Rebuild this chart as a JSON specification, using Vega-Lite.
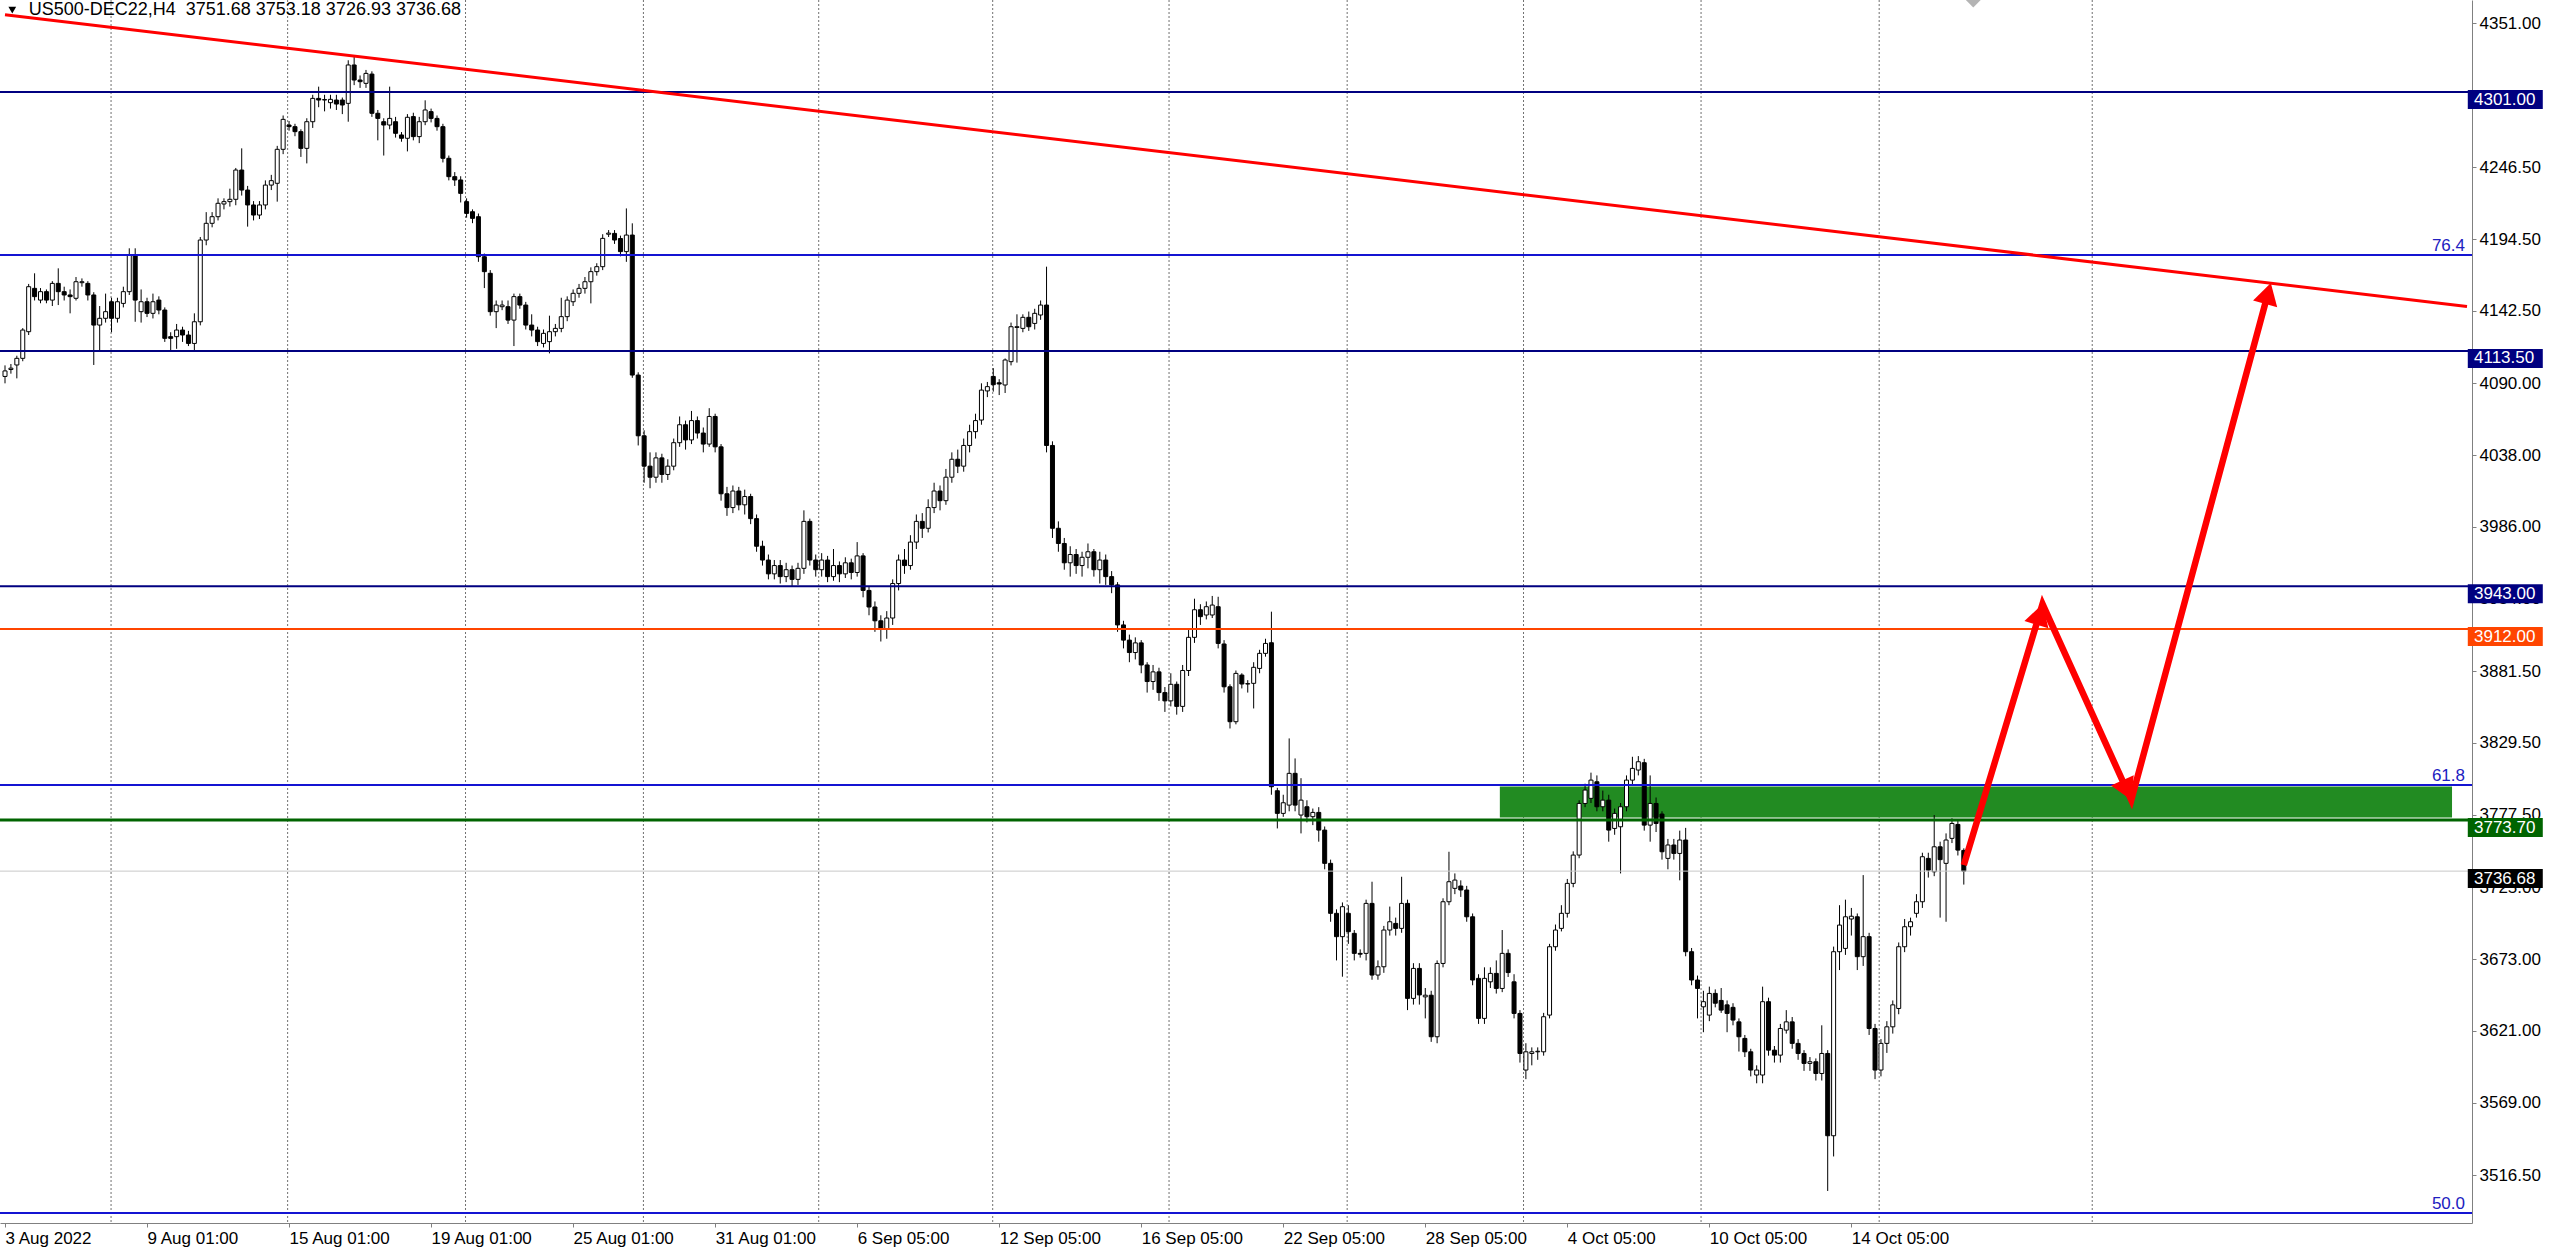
{
"$schema": "https://vega.github.io/schema/vega-lite/v6.json",
"width": 2472, "height": 1223,
"autosize": {"type": "none"},
"padding": {"left": 0, "top": 0, "right": 88, "bottom": 28},
"background": "#ffffff",
"config": {"view": {"stroke": null}},
"resolve": {"axis": {"x": "independent", "y": "independent"}},
"datasets": {
"candles": [
{"t":0,"o":4095,"h":4103,"l":4090,"c":4099},
{"t":1,"o":4100,"h":4104,"l":4097,"c":4101},
{"t":2,"o":4103.3,"h":4110,"l":4093.6,"c":4108.1},
{"t":3,"o":4108.1,"h":4130,"l":4106,"c":4128.6},
{"t":4,"o":4127.4,"h":4162,"l":4125,"c":4160},
{"t":5,"o":4158.8,"h":4169.7,"l":4150,"c":4152.8},
{"t":6,"o":4150.3,"h":4159,"l":4148,"c":4156.4},
{"t":7,"o":4156.4,"h":4158,"l":4148,"c":4150.3},
{"t":8,"o":4150.3,"h":4164,"l":4146,"c":4162.4},
{"t":9,"o":4162.4,"h":4173.3,"l":4146.7,"c":4156.4},
{"t":10,"o":4156.4,"h":4160,"l":4150,"c":4154},
{"t":11,"o":4154,"h":4158,"l":4140.7,"c":4152.8},
{"t":12,"o":4151.6,"h":4167,"l":4150,"c":4163.6},
{"t":13,"o":4162.9,"h":4166,"l":4160,"c":4163.6},
{"t":14,"o":4162.4,"h":4164,"l":4150,"c":4154},
{"t":15,"o":4154,"h":4156,"l":4103.3,"c":4132.2},
{"t":16,"o":4132.2,"h":4146,"l":4112.9,"c":4137.1},
{"t":17,"o":4137.1,"h":4155,"l":4134,"c":4141.9},
{"t":18,"o":4149.1,"h":4152,"l":4127,"c":4137.1},
{"t":19,"o":4137.1,"h":4152,"l":4134,"c":4149.1},
{"t":20,"o":4147.9,"h":4160,"l":4145,"c":4156.4},
{"t":21,"o":4156.4,"h":4187.8,"l":4154,"c":4182.9},
{"t":22,"o":4182.9,"h":4187.8,"l":4134.6,"c":4150.3},
{"t":23,"o":4141.9,"h":4158,"l":4134,"c":4149.1},
{"t":24,"o":4149.1,"h":4152,"l":4138,"c":4140.7},
{"t":25,"o":4140.7,"h":4155,"l":4137,"c":4149.1},
{"t":26,"o":4150.3,"h":4153,"l":4140,"c":4143.1},
{"t":27,"o":4143.1,"h":4145,"l":4120,"c":4122.6},
{"t":28,"o":4123.8,"h":4127,"l":4114.1,"c":4122.6},
{"t":29,"o":4123.8,"h":4133,"l":4115,"c":4128.6},
{"t":30,"o":4128.6,"h":4131,"l":4120,"c":4125},
{"t":31,"o":4125,"h":4128,"l":4117,"c":4118.9},
{"t":32,"o":4118.9,"h":4140.7,"l":4114,"c":4134.6},
{"t":33,"o":4134.6,"h":4196,"l":4132,"c":4193.8},
{"t":34,"o":4193.8,"h":4214,"l":4190,"c":4205.9},
{"t":35,"o":4205.9,"h":4214,"l":4203,"c":4210.7},
{"t":36,"o":4210.7,"h":4224,"l":4208,"c":4220.4},
{"t":37,"o":4219.9,"h":4224,"l":4216,"c":4221.6},
{"t":38,"o":4221.6,"h":4231,"l":4218,"c":4223.3},
{"t":39,"o":4223.3,"h":4246,"l":4219,"c":4244.5},
{"t":40,"o":4244.5,"h":4260.2,"l":4226,"c":4230},
{"t":41,"o":4230,"h":4233,"l":4203.5,"c":4219.2},
{"t":42,"o":4219.2,"h":4222,"l":4208,"c":4211.9},
{"t":43,"o":4211.9,"h":4222,"l":4209,"c":4219.2},
{"t":44,"o":4219.2,"h":4237,"l":4216,"c":4233.6},
{"t":45,"o":4233.6,"h":4241,"l":4230,"c":4236.8},
{"t":46,"o":4234.9,"h":4262,"l":4221.6,"c":4259.5},
{"t":47,"o":4259.5,"h":4284,"l":4256,"c":4281.2},
{"t":48,"o":4277.1,"h":4280,"l":4273,"c":4275.9},
{"t":49,"o":4275.9,"h":4278,"l":4269,"c":4272.3},
{"t":50,"o":4272.3,"h":4274,"l":4254,"c":4260.2},
{"t":51,"o":4260.2,"h":4282,"l":4249.3,"c":4279.5},
{"t":52,"o":4279.5,"h":4299,"l":4275,"c":4296.4},
{"t":53,"o":4296.4,"h":4304.9,"l":4290,"c":4295.2},
{"t":54,"o":4295.2,"h":4299,"l":4287,"c":4295.6},
{"t":55,"o":4293.3,"h":4299,"l":4289,"c":4295.7},
{"t":56,"o":4295.2,"h":4299,"l":4288,"c":4292.3},
{"t":57,"o":4295.2,"h":4297,"l":4285,"c":4291.6},
{"t":58,"o":4292.8,"h":4324,"l":4279.5,"c":4320.6},
{"t":59,"o":4320.6,"h":4326.6,"l":4306,"c":4309.7},
{"t":60,"o":4309.7,"h":4313,"l":4304,"c":4308.5},
{"t":61,"o":4307.3,"h":4317,"l":4304,"c":4314.5},
{"t":62,"o":4314,"h":4316,"l":4283,"c":4285.6},
{"t":63,"o":4285.6,"h":4288,"l":4266,"c":4281.9},
{"t":64,"o":4279.5,"h":4282,"l":4255,"c":4277.1},
{"t":65,"o":4277.1,"h":4304.9,"l":4274,"c":4281.9},
{"t":66,"o":4279.5,"h":4283,"l":4268,"c":4271.1},
{"t":67,"o":4269.9,"h":4272,"l":4265,"c":4267.5},
{"t":68,"o":4267.5,"h":4285,"l":4258,"c":4282.7},
{"t":69,"o":4283.2,"h":4286,"l":4266,"c":4268.7},
{"t":70,"o":4268.7,"h":4283,"l":4264,"c":4279.5},
{"t":71,"o":4279.5,"h":4295,"l":4277,"c":4288},
{"t":72,"o":4286.8,"h":4289,"l":4279,"c":4281.9},
{"t":73,"o":4281.9,"h":4284,"l":4273,"c":4275.9},
{"t":74,"o":4275.9,"h":4278,"l":4250,"c":4253},
{"t":75,"o":4253,"h":4255,"l":4237,"c":4239.7},
{"t":76,"o":4239.7,"h":4243,"l":4233,"c":4237.3},
{"t":77,"o":4237.3,"h":4240,"l":4221,"c":4227.6},
{"t":78,"o":4221.6,"h":4224,"l":4210,"c":4213.1},
{"t":79,"o":4214.3,"h":4216,"l":4206,"c":4209.5},
{"t":80,"o":4210.7,"h":4213,"l":4178,"c":4181.7},
{"t":81,"o":4181.7,"h":4184,"l":4159,"c":4170.9},
{"t":82,"o":4169.7,"h":4172,"l":4139,"c":4141.9},
{"t":83,"o":4141.9,"h":4150,"l":4130,"c":4146.7},
{"t":84,"o":4145.5,"h":4150,"l":4143,"c":4146.7},
{"t":85,"o":4145.5,"h":4150,"l":4133,"c":4135.8},
{"t":86,"o":4135.8,"h":4155,"l":4117,"c":4152.8},
{"t":87,"o":4152.8,"h":4155,"l":4144,"c":4146.7},
{"t":88,"o":4146.7,"h":4149,"l":4129,"c":4132.2},
{"t":89,"o":4132.2,"h":4140,"l":4124,"c":4128.6},
{"t":90,"o":4128.6,"h":4131,"l":4117,"c":4120.2},
{"t":91,"o":4118.9,"h":4129,"l":4116,"c":4126.2},
{"t":92,"o":4120.2,"h":4139,"l":4111.7,"c":4127.4},
{"t":93,"o":4127.4,"h":4133,"l":4124,"c":4129.8},
{"t":94,"o":4129.8,"h":4152,"l":4127,"c":4138.3},
{"t":95,"o":4138.3,"h":4153,"l":4135,"c":4150.3},
{"t":96,"o":4149.1,"h":4158,"l":4146,"c":4155.2},
{"t":97,"o":4155.2,"h":4162,"l":4152,"c":4158.8},
{"t":98,"o":4158.8,"h":4167,"l":4155,"c":4163.6},
{"t":99,"o":4163.6,"h":4174,"l":4147.9,"c":4170.9},
{"t":100,"o":4170.9,"h":4177,"l":4168,"c":4174.5},
{"t":101,"o":4174.5,"h":4198,"l":4172,"c":4195},
{"t":102,"o":4198,"h":4201,"l":4196,"c":4198.8},
{"t":103,"o":4198.6,"h":4201,"l":4191,"c":4193.8},
{"t":104,"o":4194.9,"h":4197,"l":4182,"c":4185.4},
{"t":105,"o":4185.4,"h":4216.7,"l":4178,"c":4197.4},
{"t":106,"o":4197.4,"h":4205.9,"l":4094,"c":4096},
{"t":107,"o":4096,"h":4098,"l":4045,"c":4052},
{"t":108,"o":4052,"h":4056,"l":4018,"c":4030},
{"t":109,"o":4030,"h":4040,"l":4014,"c":4022},
{"t":110,"o":4022,"h":4040,"l":4018,"c":4036},
{"t":111,"o":4036,"h":4039,"l":4018,"c":4024},
{"t":112,"o":4024,"h":4035,"l":4020,"c":4030},
{"t":113,"o":4030,"h":4050,"l":4027,"c":4047},
{"t":114,"o":4047,"h":4066,"l":4044,"c":4060},
{"t":115,"o":4060,"h":4063,"l":4042,"c":4049},
{"t":116,"o":4049,"h":4070,"l":4046,"c":4063},
{"t":117,"o":4063,"h":4066,"l":4050,"c":4054},
{"t":118,"o":4054,"h":4058,"l":4040,"c":4046},
{"t":119,"o":4046,"h":4072,"l":4044,"c":4066},
{"t":120,"o":4066,"h":4068,"l":4040,"c":4044},
{"t":121,"o":4044,"h":4046,"l":4005,"c":4010},
{"t":122,"o":4010,"h":4015,"l":3994,"c":4000},
{"t":123,"o":4000,"h":4016,"l":3996,"c":4012},
{"t":124,"o":4012,"h":4015,"l":3998,"c":4002},
{"t":125,"o":4002,"h":4013,"l":3995,"c":4008},
{"t":126,"o":4008,"h":4010,"l":3988,"c":3992},
{"t":127,"o":3992,"h":3995,"l":3968,"c":3972},
{"t":128,"o":3972,"h":3976,"l":3958,"c":3962},
{"t":129,"o":3962,"h":3966,"l":3948,"c":3952},
{"t":130,"o":3952,"h":3962,"l":3948,"c":3958},
{"t":131,"o":3958,"h":3962,"l":3945,"c":3950},
{"t":132,"o":3950,"h":3960,"l":3946,"c":3955},
{"t":133,"o":3955,"h":3958,"l":3943,"c":3948},
{"t":134,"o":3948,"h":3960,"l":3944,"c":3956},
{"t":135,"o":3956,"h":3998,"l":3952,"c":3990},
{"t":136,"o":3990,"h":3992,"l":3958,"c":3962},
{"t":137,"o":3962,"h":3966,"l":3950,"c":3955},
{"t":138,"o":3955,"h":3967,"l":3950,"c":3962},
{"t":139,"o":3962,"h":3965,"l":3946,"c":3950},
{"t":140,"o":3950,"h":3970,"l":3947,"c":3958},
{"t":141,"o":3958,"h":3961,"l":3946,"c":3952},
{"t":142,"o":3952,"h":3964,"l":3949,"c":3960},
{"t":143,"o":3960,"h":3963,"l":3948,"c":3953},
{"t":144,"o":3953,"h":3975,"l":3950,"c":3965},
{"t":145,"o":3965,"h":3967,"l":3935,"c":3940},
{"t":146,"o":3940,"h":3943,"l":3922,"c":3928},
{"t":147,"o":3928,"h":3932,"l":3910,"c":3918},
{"t":148,"o":3918,"h":3922,"l":3903,"c":3912},
{"t":149,"o":3912,"h":3925,"l":3905,"c":3920},
{"t":150,"o":3920,"h":3948,"l":3915,"c":3945},
{"t":151,"o":3945,"h":3966,"l":3940,"c":3962},
{"t":152,"o":3962,"h":3970,"l":3952,"c":3958},
{"t":153,"o":3958,"h":3980,"l":3955,"c":3975},
{"t":154,"o":3975,"h":3995,"l":3970,"c":3990},
{"t":155,"o":3990,"h":3996,"l":3978,"c":3985},
{"t":156,"o":3985,"h":4006,"l":3982,"c":4000},
{"t":157,"o":4000,"h":4018,"l":3996,"c":4012},
{"t":158,"o":4012,"h":4016,"l":3998,"c":4005},
{"t":159,"o":4005,"h":4028,"l":4002,"c":4022},
{"t":160,"o":4022,"h":4040,"l":4018,"c":4035},
{"t":161,"o":4035,"h":4042,"l":4025,"c":4030},
{"t":162,"o":4030,"h":4050,"l":4026,"c":4045},
{"t":163,"o":4045,"h":4060,"l":4040,"c":4055},
{"t":164,"o":4055,"h":4068,"l":4050,"c":4063},
{"t":165,"o":4063.4,"h":4090,"l":4060,"c":4085.1},
{"t":166,"o":4084.5,"h":4091,"l":4080,"c":4087.6},
{"t":167,"o":4095,"h":4101,"l":4084,"c":4089},
{"t":168,"o":4090.4,"h":4093,"l":4081.5,"c":4089.5},
{"t":169,"o":4088.8,"h":4108,"l":4083,"c":4106.9},
{"t":170,"o":4105.7,"h":4134,"l":4103,"c":4131},
{"t":171,"o":4130.5,"h":4140,"l":4105,"c":4131},
{"t":172,"o":4129.8,"h":4140,"l":4127,"c":4137.8},
{"t":173,"o":4137.8,"h":4142,"l":4128,"c":4131},
{"t":174,"o":4133.4,"h":4144,"l":4129,"c":4140.7},
{"t":175,"o":4139.5,"h":4150,"l":4136,"c":4146.7},
{"t":176,"o":4146.7,"h":4174.5,"l":4040,"c":4045},
{"t":177,"o":4045,"h":4048,"l":3978,"c":3985},
{"t":178,"o":3985,"h":3990,"l":3968,"c":3974},
{"t":179,"o":3974,"h":3978,"l":3955,"c":3960},
{"t":180,"o":3960,"h":3972,"l":3950,"c":3966},
{"t":181,"o":3966,"h":3970,"l":3952,"c":3958},
{"t":182,"o":3958,"h":3968,"l":3950,"c":3964},
{"t":183,"o":3964,"h":3974,"l":3956,"c":3968},
{"t":184,"o":3968,"h":3970,"l":3950,"c":3955},
{"t":185,"o":3955,"h":3968,"l":3945,"c":3962},
{"t":186,"o":3962,"h":3966,"l":3944,"c":3950},
{"t":187,"o":3950,"h":3954,"l":3938,"c":3944},
{"t":188,"o":3944,"h":3946,"l":3910,"c":3915},
{"t":189,"o":3915,"h":3918,"l":3898,"c":3904},
{"t":190,"o":3904,"h":3908,"l":3888,"c":3895},
{"t":191,"o":3895,"h":3906,"l":3890,"c":3902},
{"t":192,"o":3902,"h":3904,"l":3880,"c":3886},
{"t":193,"o":3886,"h":3888,"l":3866,"c":3874},
{"t":194,"o":3874,"h":3886,"l":3868,"c":3881},
{"t":195,"o":3881,"h":3884,"l":3860,"c":3866},
{"t":196,"o":3866,"h":3870,"l":3852,"c":3860},
{"t":197,"o":3860,"h":3880,"l":3856,"c":3872},
{"t":198,"o":3872,"h":3874,"l":3850,"c":3856},
{"t":199,"o":3856,"h":3886,"l":3852,"c":3882},
{"t":200,"o":3882,"h":3912,"l":3878,"c":3906},
{"t":201,"o":3906,"h":3934,"l":3902,"c":3926},
{"t":202,"o":3926,"h":3930,"l":3915,"c":3921},
{"t":203,"o":3922.2,"h":3932,"l":3919,"c":3928.2},
{"t":204,"o":3922.2,"h":3936,"l":3920,"c":3929.4},
{"t":205,"o":3928.2,"h":3935.4,"l":3898,"c":3901.6},
{"t":206,"o":3901.2,"h":3904,"l":3866,"c":3870.2},
{"t":207,"o":3870.2,"h":3872,"l":3840,"c":3844.9},
{"t":208,"o":3844.9,"h":3882,"l":3843,"c":3879.9},
{"t":209,"o":3878.7,"h":3880,"l":3869,"c":3872.2},
{"t":210,"o":3872.2,"h":3875,"l":3866,"c":3872.5},
{"t":211,"o":3872.7,"h":3888,"l":3854.5,"c":3884.3},
{"t":212,"o":3883.5,"h":3897,"l":3880,"c":3894.4},
{"t":213,"o":3894.4,"h":3905,"l":3892,"c":3901.6},
{"t":214,"o":3902.1,"h":3924.6,"l":3792,"c":3797.8},
{"t":215,"o":3794.9,"h":3797,"l":3767.6,"c":3778.5},
{"t":216,"o":3778.5,"h":3792,"l":3776,"c":3786.2},
{"t":217,"o":3784.5,"h":3832.8,"l":3780,"c":3807.5},
{"t":218,"o":3807.5,"h":3818.3,"l":3780,"c":3784.5},
{"t":219,"o":3777.3,"h":3804,"l":3764,"c":3788.1},
{"t":220,"o":3783.3,"h":3788,"l":3772,"c":3776.1},
{"t":221,"o":3776.1,"h":3782,"l":3770,"c":3779.2},
{"t":222,"o":3779.2,"h":3783,"l":3758,"c":3766.4},
{"t":223,"o":3766.4,"h":3769,"l":3738,"c":3742.3},
{"t":224,"o":3742.3,"h":3745,"l":3700,"c":3706.1},
{"t":225,"o":3706.1,"h":3709,"l":3672,"c":3689.2},
{"t":226,"o":3689.2,"h":3714,"l":3660.2,"c":3710.9},
{"t":227,"o":3706.1,"h":3712,"l":3684,"c":3692.8},
{"t":228,"o":3691.6,"h":3694,"l":3672,"c":3677.1},
{"t":229,"o":3677.1,"h":3680,"l":3674,"c":3676.5},
{"t":230,"o":3677.1,"h":3716,"l":3672,"c":3713.3},
{"t":231,"o":3713.3,"h":3729,"l":3658,"c":3661.4},
{"t":232,"o":3661.4,"h":3672,"l":3658,"c":3667.4},
{"t":233,"o":3667.4,"h":3697,"l":3663,"c":3694},
{"t":234,"o":3694,"h":3711,"l":3690,"c":3700},
{"t":235,"o":3698.8,"h":3703,"l":3690,"c":3695.2},
{"t":236,"o":3695.2,"h":3732.6,"l":3692,"c":3713.3},
{"t":237,"o":3713.3,"h":3716,"l":3636,"c":3644.5},
{"t":238,"o":3644.5,"h":3670,"l":3640,"c":3666.2},
{"t":239,"o":3666.2,"h":3670,"l":3640,"c":3647},
{"t":240,"o":3645.6,"h":3652,"l":3630,"c":3646.8},
{"t":241,"o":3646.8,"h":3650,"l":3613,"c":3616.7},
{"t":242,"o":3616.7,"h":3672,"l":3612,"c":3669.8},
{"t":243,"o":3669.8,"h":3717,"l":3667,"c":3714.5},
{"t":244,"o":3714.5,"h":3750.7,"l":3712,"c":3729},
{"t":245,"o":3724.2,"h":3735,"l":3720,"c":3730.2},
{"t":246,"o":3725.9,"h":3730,"l":3718,"c":3723},
{"t":247,"o":3723,"h":3726,"l":3700,"c":3703.6},
{"t":248,"o":3703.6,"h":3706,"l":3654,"c":3657.8},
{"t":249,"o":3659,"h":3662,"l":3626,"c":3630},
{"t":250,"o":3630,"h":3667,"l":3626,"c":3659},
{"t":251,"o":3656.5,"h":3667,"l":3652,"c":3662.6},
{"t":252,"o":3662.6,"h":3672,"l":3648,"c":3651.7},
{"t":253,"o":3651.7,"h":3694,"l":3649,"c":3677.1},
{"t":254,"o":3677.1,"h":3680,"l":3660,"c":3663.2},
{"t":255,"o":3656.5,"h":3662,"l":3630,"c":3633.6},
{"t":256,"o":3633.6,"h":3636,"l":3598,"c":3604.6},
{"t":257,"o":3592.6,"h":3612,"l":3586,"c":3605.8},
{"t":258,"o":3604.6,"h":3609,"l":3596,"c":3605.8},
{"t":259,"o":3605.8,"h":3609,"l":3600,"c":3606.2},
{"t":260,"o":3605.8,"h":3634,"l":3603,"c":3631.2},
{"t":261,"o":3632.4,"h":3684,"l":3630,"c":3681.9},
{"t":262,"o":3681.9,"h":3698,"l":3679,"c":3694},
{"t":263,"o":3695.2,"h":3712,"l":3693,"c":3706.1},
{"t":264,"o":3706.1,"h":3731,"l":3703,"c":3727.8},
{"t":265,"o":3727.8,"h":3751,"l":3725,"c":3748.3},
{"t":266,"o":3748.3,"h":3788,"l":3746,"c":3785.7},
{"t":267,"o":3785.7,"h":3800,"l":3783,"c":3795.4},
{"t":268,"o":3789.4,"h":3808,"l":3786,"c":3802.6},
{"t":269,"o":3801.4,"h":3806,"l":3780,"c":3783.3},
{"t":270,"o":3783.3,"h":3795,"l":3780,"c":3788.1},
{"t":271,"o":3788.1,"h":3792,"l":3758,"c":3766.4},
{"t":272,"o":3767.6,"h":3782,"l":3763,"c":3778.5},
{"t":273,"o":3768.8,"h":3786,"l":3735,"c":3783.3},
{"t":274,"o":3783.3,"h":3806,"l":3780,"c":3802.6},
{"t":275,"o":3802.6,"h":3819.5,"l":3799,"c":3811.1},
{"t":276,"o":3809.9,"h":3820,"l":3806,"c":3815.9},
{"t":277,"o":3815.2,"h":3818,"l":3766,"c":3770},
{"t":278,"o":3770,"h":3806,"l":3758,"c":3785.7},
{"t":279,"o":3785.7,"h":3790,"l":3765,"c":3771.2},
{"t":280,"o":3778,"h":3780,"l":3745,"c":3750.7},
{"t":281,"o":3745.9,"h":3760,"l":3738,"c":3755.6},
{"t":282,"o":3755.6,"h":3760,"l":3745,"c":3749.5},
{"t":283,"o":3749.5,"h":3766,"l":3730,"c":3759.2},
{"t":284,"o":3759.2,"h":3768,"l":3675,"c":3678.3},
{"t":285,"o":3678.3,"h":3681,"l":3654,"c":3657.8},
{"t":286,"o":3657.8,"h":3661,"l":3630,"c":3651.7},
{"t":287,"o":3638.4,"h":3650,"l":3620,"c":3642.1},
{"t":288,"o":3632.4,"h":3653,"l":3628,"c":3648.1},
{"t":289,"o":3648.1,"h":3651,"l":3638,"c":3641},
{"t":290,"o":3643,"h":3652,"l":3634,"c":3636},
{"t":291,"o":3639.8,"h":3643,"l":3620,"c":3633.6},
{"t":292,"o":3638,"h":3641,"l":3625,"c":3628.8},
{"t":293,"o":3627.5,"h":3630,"l":3606,"c":3616.7},
{"t":294,"o":3615.5,"h":3618,"l":3602,"c":3605.8},
{"t":295,"o":3605.8,"h":3608,"l":3588,"c":3592.6},
{"t":296,"o":3589,"h":3596,"l":3583,"c":3592.6},
{"t":297,"o":3589,"h":3653,"l":3583,"c":3642.1},
{"t":298,"o":3642.1,"h":3645,"l":3603,"c":3607},
{"t":299,"o":3607,"h":3610,"l":3598,"c":3603.4},
{"t":300,"o":3603.4,"h":3626,"l":3598,"c":3622.7},
{"t":301,"o":3621.5,"h":3636,"l":3619,"c":3627.5},
{"t":302,"o":3627.5,"h":3631,"l":3608,"c":3611.9},
{"t":303,"o":3611.9,"h":3615,"l":3600,"c":3604.6},
{"t":304,"o":3604.6,"h":3607,"l":3592,"c":3597.4},
{"t":305,"o":3597.4,"h":3602,"l":3592,"c":3598.6},
{"t":306,"o":3598.6,"h":3601,"l":3585,"c":3590.1},
{"t":307,"o":3590.1,"h":3625,"l":3585,"c":3604.6},
{"t":308,"o":3604.6,"h":3607,"l":3505,"c":3545},
{"t":309,"o":3545,"h":3682,"l":3530,"c":3678.3},
{"t":310,"o":3678.3,"h":3712,"l":3665,"c":3697.6},
{"t":311,"o":3680.7,"h":3716,"l":3676,"c":3703.6},
{"t":312,"o":3702,"h":3710,"l":3690,"c":3704},
{"t":313,"o":3703.6,"h":3706,"l":3665,"c":3674.7},
{"t":314,"o":3674.7,"h":3733.8,"l":3668,"c":3689.2},
{"t":315,"o":3689.2,"h":3692,"l":3618,"c":3622.7},
{"t":316,"o":3622.7,"h":3626,"l":3586,"c":3592.6},
{"t":317,"o":3592.6,"h":3615,"l":3588,"c":3611.9},
{"t":318,"o":3611.9,"h":3628,"l":3605,"c":3623.9},
{"t":319,"o":3623.9,"h":3643,"l":3619,"c":3639.8},
{"t":320,"o":3637.2,"h":3685,"l":3633,"c":3681.9},
{"t":321,"o":3681.9,"h":3702,"l":3678,"c":3696.4},
{"t":322,"o":3696.4,"h":3703,"l":3690,"c":3700},
{"t":323,"o":3706.1,"h":3720,"l":3703,"c":3714.5},
{"t":324,"o":3714.5,"h":3750,"l":3710,"c":3747.1},
{"t":325,"o":3745.9,"h":3750,"l":3732,"c":3737.4},
{"t":326,"o":3736.2,"h":3777.3,"l":3733,"c":3754.3},
{"t":327,"o":3754.3,"h":3758,"l":3703,"c":3745},
{"t":328,"o":3742.3,"h":3764,"l":3700,"c":3759.2},
{"t":329,"o":3760.4,"h":3775,"l":3757,"c":3771.2},
{"t":330,"o":3770.5,"h":3773,"l":3748,"c":3751.9},
{"t":331,"o":3751.68,"h":3753.18,"l":3726.93,"c":3736.68}
],
"levels": [
{"p":4301,"label":"4301.00","kind":"level"},
{"p":4113.5,"label":"4113.50","kind":"level"},
{"p":3943,"label":"3943.00","kind":"level"},
{"p":3912,"label":"3912.00","kind":"pivot"},
{"p":3773.7,"label":"3773.70","kind":"zone"},
{"p":3736.68,"label":"3736.68","kind":"bid"}
],
"fibs": [
{"p":4183,"label":"76.4"},
{"p":3799,"label":"61.8"},
{"p":3489,"label":"50.0"}
],
"grid": [
{"t":17.92},{"t":47.76},{"t":77.82},{"t":107.88},{"t":137.5},{"t":166.9},{"t":196.7},{"t":226.8},{"t":256.6},{"t":286.6},{"t":316.7},{"t":352.7}
],
"zone": [{"t1":252.6,"t2":413.5,"p1":3775.5,"p2":3798}],
"trend": [{"t":0,"p":4357.0},{"t":416.03,"p":4145.7}],
"arrow": [
{"s":1,"t":331.0,"p":3741},
{"s":2,"t":344.3,"p":3930.1},
{"s":3,"t":359.3,"p":3788.2},
{"s":4,"t":382.4,"p":4155.1}
],
"heads": [
{"t":343.8,"p":3922.7,"dir":16.8},
{"t":358.55,"p":3795.3,"dir":155.6},
{"t":382.4,"p":4155.1,"dir":15.2}
]
},
"layer": [
{
"data": {"name": "grid"},
"mark": {"type": "rule", "stroke": "#707070", "strokeWidth": 1, "strokeDash": [2, 2]},
"encoding": {
"x": {"field": "t", "type": "quantitative", "scale": {"domain": [0, 416.03], "nice": false, "zero": false}, "axis": null}
}
},
{
"data": {"name": "zone"},
"mark": {"type": "rect", "fill": "#228B22"},
"encoding": {
"x": {"field": "t1", "type": "quantitative", "scale": {"domain": [0, 416.03], "nice": false, "zero": false}, "axis": null},
"x2": {"field": "t2"},
"y": {"field": "p1", "type": "quantitative", "scale": {"domain": [3481.8, 4367.66], "nice": false, "zero": false}, "axis": null},
"y2": {"field": "p2"}
}
},
{
"data": {"name": "candles"},
"mark": {"type": "rule", "stroke": "#000000", "strokeWidth": 1},
"encoding": {
"x": {"field": "t", "type": "quantitative", "scale": {"domain": [0, 416.03], "nice": false, "zero": false},
"axis": {"orient": "bottom", "values": [0,24,48,72,96,120,144,168,192,216,240,264,288,312],
"labelExpr": "['3 Aug 2022','9 Aug 01:00','15 Aug 01:00','19 Aug 01:00','25 Aug 01:00','31 Aug 01:00','6 Sep 05:00','12 Sep 05:00','16 Sep 05:00','22 Sep 05:00','28 Sep 05:00','4 Oct 05:00','10 Oct 05:00','14 Oct 05:00'][round(datum.value/24)]",
"labelAlign": "left", "labelBaseline": "top", "labelPadding": 3, "tickSize": 4, "tickColor": "#808080", "domainColor": "#808080", "domainWidth": 1,
"labelFont": "Liberation Sans", "labelFontSize": 17, "labelColor": "#000000", "title": null, "grid": false, "labelOverlap": false, "labelFlush": false, "labelBound": false}},
"y": {"field": "l", "type": "quantitative", "scale": {"domain": [3481.8, 4367.66], "nice": false, "zero": false},
"axis": {"orient": "right", "values": [4351,4246.5,4194.5,4142.5,4090,4038,3986,3934,3881.5,3829.5,3777.5,3725,3673,3621,3569,3516.5],
"format": ".2f", "labelAlign": "left", "labelBaseline": "middle", "labelPadding": 3, "tickSize": 4, "tickColor": "#808080", "domainColor": "#808080", "domainWidth": 1,
"labelFont": "Liberation Sans", "labelFontSize": 17, "labelColor": "#000000", "title": null, "grid": false, "labelOverlap": false, "labelFlush": false, "labelBound": false}},
"y2": {"field": "h"}
}
},
{
"data": {"name": "candles"},
"mark": {"type": "bar", "width": 4, "stroke": "#000000", "strokeWidth": 1},
"encoding": {
"x": {"field": "t", "type": "quantitative", "scale": {"domain": [0, 416.03], "nice": false, "zero": false}, "axis": null},
"y": {"field": "o", "type": "quantitative", "scale": {"domain": [3481.8, 4367.66], "nice": false, "zero": false}, "axis": null},
"y2": {"field": "c"},
"fill": {"condition": {"test": "datum.c < datum.o", "value": "#000000"}, "value": "#ffffff"}
}
},
{
"data": {"name": "levels"},
"transform": [{"filter": "datum.kind === 'bid'"}],
"mark": {"type": "rule", "stroke": "#C8C8C8", "strokeWidth": 1},
"encoding": {
"y": {"field": "p", "type": "quantitative", "scale": {"domain": [3481.8, 4367.66], "nice": false, "zero": false}, "axis": null}
}
},
{
"data": {"name": "levels"},
"transform": [{"filter": "datum.kind !== 'bid'"}],
"mark": {"type": "rule"},
"encoding": {
"y": {"field": "p", "type": "quantitative", "scale": {"domain": [3481.8, 4367.66], "nice": false, "zero": false}, "axis": null},
"color": {"field": "kind", "type": "nominal", "scale": {"domain": ["level", "pivot", "zone", "bid"], "range": ["#000080", "#FF4500", "#006400", "#000000"]}, "legend": null},
"strokeWidth": {"condition": {"test": "datum.kind === 'zone'", "value": 3}, "value": 2}
}
},
{
"data": {"name": "fibs"},
"mark": {"type": "rule", "stroke": "#1414D2", "strokeWidth": 2},
"encoding": {
"y": {"field": "p", "type": "quantitative", "scale": {"domain": [3481.8, 4367.66], "nice": false, "zero": false}, "axis": null}
}
},
{
"data": {"name": "fibs"},
"mark": {"type": "text", "align": "right", "baseline": "alphabetic", "dx": -2, "dy": -4, "font": "Liberation Sans", "fontSize": 17, "fill": "#2020C0"},
"encoding": {
"x": {"datum": 416.03, "type": "quantitative", "scale": {"domain": [0, 416.03], "nice": false, "zero": false}, "axis": null},
"y": {"field": "p", "type": "quantitative", "scale": {"domain": [3481.8, 4367.66], "nice": false, "zero": false}, "axis": null},
"text": {"field": "label"}
}
},
{
"data": {"name": "trend"},
"mark": {"type": "line", "stroke": "#FF0000", "strokeWidth": 3, "clip": true},
"encoding": {
"x": {"field": "t", "type": "quantitative", "scale": {"domain": [0, 416.03], "nice": false, "zero": false}, "axis": null},
"y": {"field": "p", "type": "quantitative", "scale": {"domain": [3481.8, 4367.66], "nice": false, "zero": false}, "axis": null}
}
},
{
"data": {"name": "arrow"},
"mark": {"type": "line", "stroke": "#FF0000", "strokeWidth": 6.5, "strokeJoin": "miter", "strokeCap": "butt"},
"encoding": {
"x": {"field": "t", "type": "quantitative", "scale": {"domain": [0, 416.03], "nice": false, "zero": false}, "axis": null},
"y": {"field": "p", "type": "quantitative", "scale": {"domain": [3481.8, 4367.66], "nice": false, "zero": false}, "axis": null},
"order": {"field": "s"}
}
},
{
"data": {"name": "heads"},
"mark": {"type": "point", "shape": "triangle-up", "filled": true, "fill": "#FF0000", "stroke": null, "size": 625, "opacity": 1},
"encoding": {
"x": {"field": "t", "type": "quantitative", "scale": {"domain": [0, 416.03], "nice": false, "zero": false}, "axis": null},
"y": {"field": "p", "type": "quantitative", "scale": {"domain": [3481.8, 4367.66], "nice": false, "zero": false}, "axis": null},
"angle": {"field": "dir", "type": "quantitative", "scale": null}
}
},
{
"data": {"name": "levels"},
"mark": {"type": "rect", "width": 75, "height": 19, "yOffset": 7.5},
"encoding": {
"x": {"datum": 422.5, "type": "quantitative", "scale": {"domain": [0, 416.03], "nice": false, "zero": false}, "axis": null},
"y": {"field": "p", "type": "quantitative", "scale": {"domain": [3481.8, 4367.66], "nice": false, "zero": false}, "axis": null},
"fill": {"field": "kind", "type": "nominal", "scale": {"domain": ["level", "pivot", "zone", "bid"], "range": ["#000080", "#FF4500", "#006400", "#000000"]}, "legend": null}
}
},
{
"data": {"name": "levels"},
"mark": {"type": "text", "align": "left", "baseline": "middle", "dx": 7, "dy": 7.5, "font": "Liberation Sans", "fontSize": 17, "fill": "#ffffff"},
"encoding": {
"x": {"datum": 416.03, "type": "quantitative", "scale": {"domain": [0, 416.03], "nice": false, "zero": false}, "axis": null},
"y": {"field": "p", "type": "quantitative", "scale": {"domain": [3481.8, 4367.66], "nice": false, "zero": false}, "axis": null},
"text": {"field": "label"}
}
},
{
"data": {"values": [{"label": "US500-DEC22,H4\u00a0\u00a03751.68 3753.18 3726.93 3736.68"}]},
"mark": {"type": "text", "align": "left", "baseline": "middle", "font": "Liberation Sans", "fontSize": 18, "fill": "#000000"},
"encoding": {
"x": {"datum": 4.0, "type": "quantitative", "scale": {"domain": [0, 416.03], "nice": false, "zero": false}, "axis": null},
"y": {"datum": 4360.4, "type": "quantitative", "scale": {"domain": [3481.8, 4367.66], "nice": false, "zero": false}, "axis": null},
"text": {"field": "label"}
}
},
{
"data": {"values": [{"m": "menu"}]},
"mark": {"type": "point", "shape": "triangle-down", "filled": true, "fill": "#000000", "size": 60, "opacity": 1},
"encoding": {
"x": {"datum": 1.23, "type": "quantitative", "scale": {"domain": [0, 416.03], "nice": false, "zero": false}, "axis": null},
"y": {"datum": 4360.4, "type": "quantitative", "scale": {"domain": [3481.8, 4367.66], "nice": false, "zero": false}, "axis": null}
}
},
{
"data": {"values": [{"m": "shift"}]},
"mark": {"type": "point", "shape": "diamond", "filled": true, "fill": "#B4B4B4", "size": 220, "opacity": 1},
"encoding": {
"x": {"datum": 332.6, "type": "quantitative", "scale": {"domain": [0, 416.03], "nice": false, "zero": false}, "axis": null},
"y": {"datum": 4367.66, "type": "quantitative", "scale": {"domain": [3481.8, 4367.66], "nice": false, "zero": false}, "axis": null}
}
}
]
}
